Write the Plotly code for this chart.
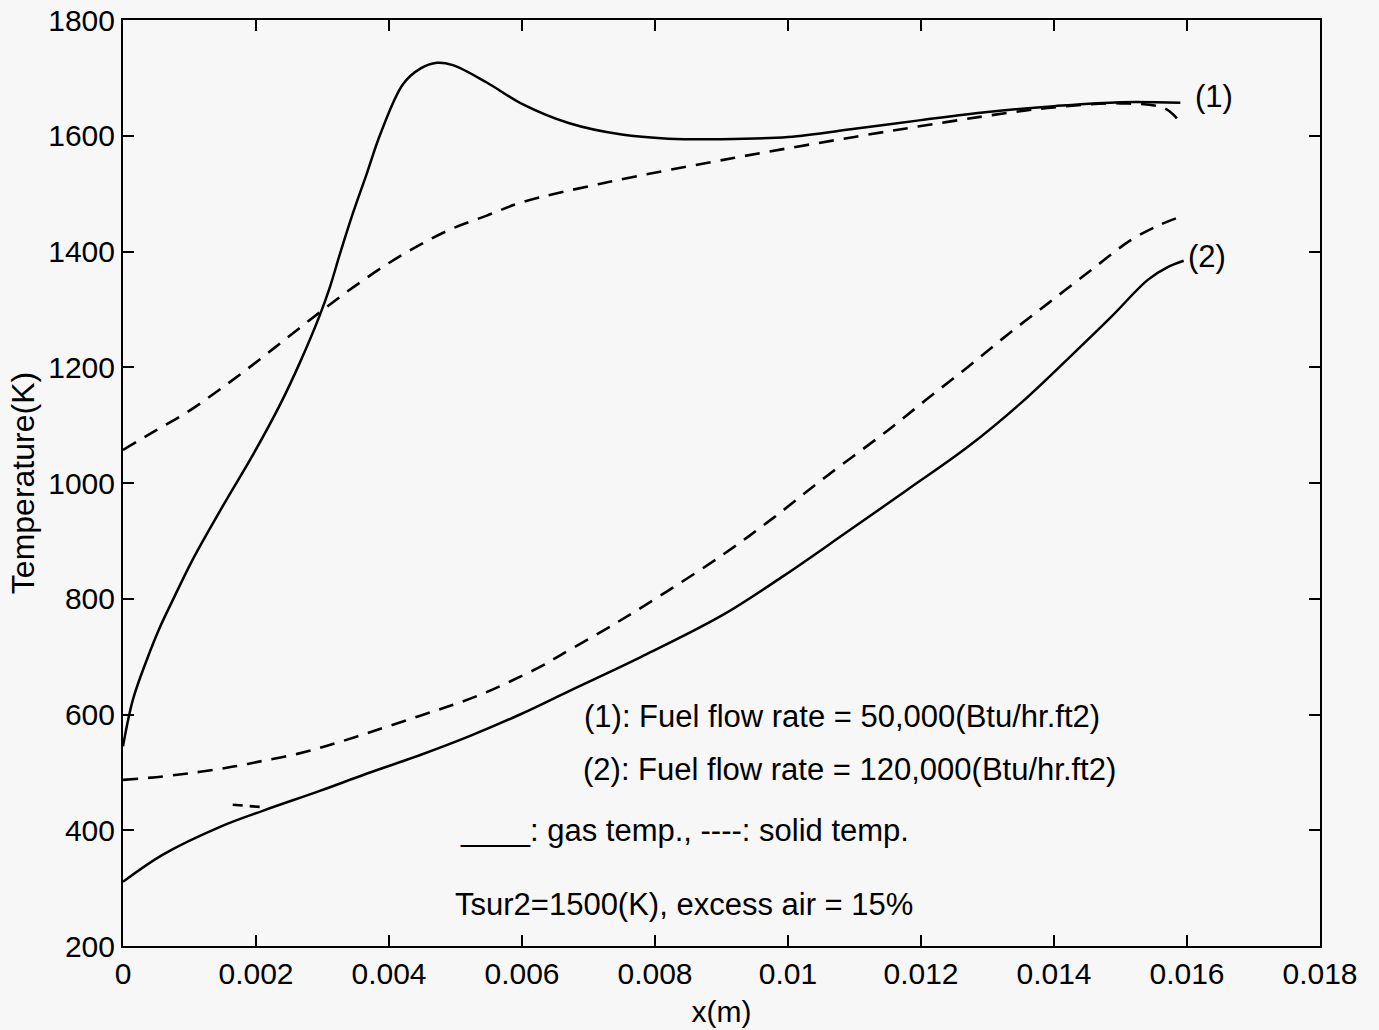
import plotly.graph_objects as go

# Position along the burner (m) and temperatures (K)
# Case (1): fuel flow rate 50,000 Btu/hr.ft2
x_gas1 = [0, 0.00015, 0.00036, 0.00056, 0.00075, 0.00104, 0.0015, 0.00196, 0.00236,
          0.00266, 0.00296, 0.00311, 0.00326, 0.00346, 0.00367, 0.00387, 0.00421,
          0.00447, 0.00472, 0.00496, 0.00547, 0.006, 0.0067, 0.0075, 0.0082, 0.009,
          0.01, 0.011, 0.012, 0.013, 0.014, 0.015, 0.0159]
t_gas1 = [545, 626, 695, 752, 798, 866, 960, 1050, 1135,
          1208, 1290, 1338, 1395, 1467, 1536, 1603, 1689,
          1716, 1726, 1722, 1692, 1655, 1622, 1602, 1595, 1594,
          1598, 1612, 1627, 1641, 1651, 1658, 1657]

x_solid1 = [0, 0.00045, 0.00096, 0.00146, 0.00196, 0.00246, 0.00296, 0.00346, 0.00397,
            0.00447, 0.00496, 0.00547, 0.006, 0.0073, 0.0092, 0.011, 0.0124, 0.0134,
            0.014, 0.015, 0.01565, 0.01585]
t_solid1 = [1057, 1088, 1122, 1162, 1205, 1250, 1295, 1338, 1378,
            1412, 1440, 1462, 1485, 1520, 1562, 1598, 1624, 1641,
            1649, 1656, 1648, 1630]

# Case (2): fuel flow rate 120,000 Btu/hr.ft2
x_gas2 = [0, 0.0006, 0.00146, 0.00211, 0.00296, 0.00367, 0.00447, 0.00522, 0.00597,
          0.0067, 0.0078, 0.00902, 0.00994, 0.01087, 0.01179, 0.01271, 0.0135,
          0.01424, 0.01486, 0.01541, 0.01571, 0.01595]
t_gas2 = [311, 358, 406, 434, 468, 498, 530, 563, 600,
          640, 700, 772, 840, 914, 988, 1063, 1138,
          1218, 1287, 1351, 1373, 1384]

x_solid2 = [0, 0.0006, 0.00116, 0.00166, 0.00211, 0.00262, 0.00307, 0.00352, 0.00397,
            0.00447, 0.00492, 0.00537, 0.00582, 0.0063, 0.0066, 0.00737, 0.00817,
            0.00902, 0.00976, 0.01056, 0.01149, 0.01209, 0.01271, 0.01332, 0.01394,
            0.01456, 0.01516, 0.01559, 0.0159]
t_solid2 = [487, 493, 501, 510, 520, 532, 546, 562, 579,
            598, 615, 634, 657, 684, 704, 755, 812,
            876, 938, 1010, 1090, 1145, 1201, 1258, 1313,
            1368, 1420, 1446, 1460]

# short stray solid-temperature segment near the inlet
x_stub = [0.00165, 0.0021]
t_stub = [444, 440]

x_ticks = [0, 0.002, 0.004, 0.006, 0.008, 0.01, 0.012, 0.014, 0.016, 0.018]
x_ticktext = ["0", "0.002", "0.004", "0.006", "0.008", "0.01", "0.012", "0.014", "0.016", "0.018"]
y_ticks = [200, 400, 600, 800, 1000, 1200, 1400, 1600, 1800]

FONT = "Liberation Sans, Arial, Helvetica, sans-serif"
BG = "#f7f7f7"
solid_style = dict(color="black", width=2.5)
dash_style = dict(color="black", width=2.6, dash="15px,10px")

fig = go.Figure()
fig.add_trace(go.Scatter(x=x_gas1, y=t_gas1, mode="lines", line=solid_style,
                         line_shape="spline", showlegend=False))
fig.add_trace(go.Scatter(x=x_solid1, y=t_solid1, mode="lines", line=dash_style,
                         line_shape="spline", showlegend=False))
fig.add_trace(go.Scatter(x=x_gas2, y=t_gas2, mode="lines", line=solid_style,
                         line_shape="spline", showlegend=False))
fig.add_trace(go.Scatter(x=x_solid2, y=t_solid2, mode="lines", line=dash_style,
                         line_shape="spline", showlegend=False))
fig.add_trace(go.Scatter(x=x_stub, y=t_stub, mode="lines",
                         line=dict(color="black", width=2.6, dash="10px,7px"),
                         showlegend=False))

text_font = dict(family=FONT, size=31, color="black")
notes = [
    (0.00692, 596, "(1): Fuel flow rate = 50,000(Btu/hr.ft2)"),
    (0.00690, 505, "(2): Fuel flow rate = 120,000(Btu/hr.ft2)"),
    (0.00505, 400, "____: gas temp., ----: solid temp."),
    (0.00497, 271, "Tsur2=1500(K), excess air = 15%"),
    (0.01610, 1667, "(1)"),
    (0.01600, 1392, "(2)"),
]
for nx, ny, txt in notes:
    fig.add_annotation(x=nx, y=ny, text=txt, showarrow=False, xanchor="left",
                       yanchor="middle", font=text_font, borderpad=0)

axis_common = dict(
    showline=True, linecolor="black", linewidth=2, mirror="ticks",
    ticks="inside", ticklen=11, tickwidth=2, tickcolor="black",
    showgrid=False, zeroline=False, automargin=False,
    tickfont=dict(family=FONT, size=30, color="black"),
)

fig.update_xaxes(range=[0, 0.018], tickvals=x_ticks, ticktext=x_ticktext,
                 title=dict(text="x(m)", font=dict(family=FONT, size=30, color="black"),
                            standoff=12),
                 **axis_common)
fig.update_yaxes(range=[200, 1800], tickvals=y_ticks,
                 title=dict(text="Temperature(K)", font=dict(family=FONT, size=32, color="black"),
                            standoff=4),
                 **axis_common)

fig.update_layout(
    width=1379, height=1030,
    margin=dict(l=123, r=59, t=20, b=84),
    paper_bgcolor=BG, plot_bgcolor=BG,
    showlegend=False,
)

fig.write_html("out.html")
